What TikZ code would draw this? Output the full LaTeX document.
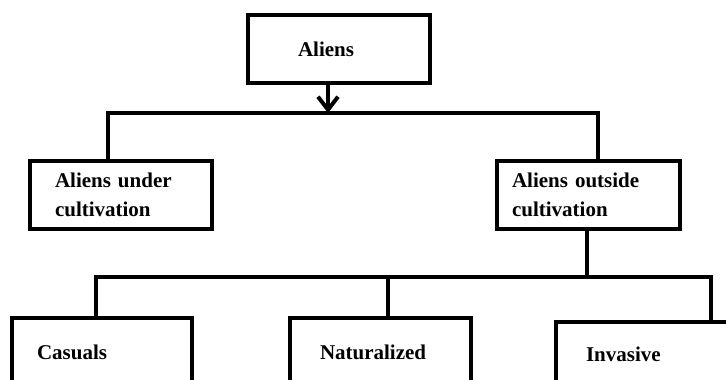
\documentclass[tikz,border=0pt]{standalone}
\usepackage{fontspec}
\setmainfont{Liberation Serif}
\usetikzlibrary{positioning, arrows.meta}

\begin{document}
\begin{tikzpicture}[x=1pt, y=-1pt]

\tikzstyle{block} = [
    rectangle,
    draw,
    line width=4pt,
    align=left,
    minimum height=68pt,
    font=\fontsize{21}{29}\selectfont\bfseries
];
\tikzstyle{wire} = [line width=4pt, line join=miter]

\useasboundingbox (0,0) rectangle (726,380);
\clip (0,0) rectangle (726,380);

\node[block, inner xsep=50pt, text width=82pt] (aliens) at (339,49) {Aliens};
\node[block, inner xsep=25pt, text width=132pt] (under) at (121,194.5) {Aliens under\\cultivation};
\node[block, inner xsep=15pt, text width=153pt] (outside) at (588.5,194.5) {Aliens outside\\cultivation};
\node[block, inner xsep=25pt, text width=130pt] (casuals) at (102,352) {Casuals};
\node[block, inner xsep=30pt, text width=121pt] (naturalized) at (380.5,352) {Naturalized};
\node[block, inner xsep=30pt, text width=122pt, minimum height=64pt] (invasive) at (647,354) {Invasive};

% junctions
\coordinate (split1) at (328,113);
\coordinate (lt) at (108,113);
\coordinate (rt) at (598,113);
\coordinate (split2) at (587,277);
\coordinate (bl) at (96,277);
\coordinate (br) at (711,277);
\coordinate (nz) at (388,277);

\draw[wire, -{Straight Barb[length=13pt, width=20pt, line width=4pt]}] (aliens.south -| split1) -- (split1);
\draw[wire] (under.north -| lt) |- (rt) -- (outside.north -| rt);
\draw[wire] (outside.south -| split2) -- (split2);
\draw[wire] (casuals.north -| bl) |- (br) -- (invasive.north -| br);
\draw[wire] (nz) -- (naturalized.north -| nz);

\end{tikzpicture}
\end{document}
